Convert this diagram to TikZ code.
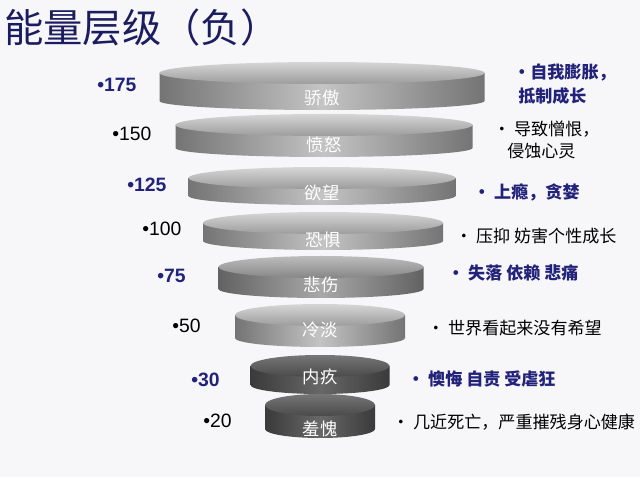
\documentclass[tikz,border=0pt]{standalone}
\usepackage{fontspec}
\setmainfont{Liberation Sans}
\newfontfamily\cjk{Noto Sans CJK SC}
\definecolor{navy}{HTML}{22227A}
\definecolor{titlecol}{HTML}{1C1C60}
\definecolor{bgcol}{HTML}{F7F7F9}
% light disks
\definecolor{Ledge}{HTML}{747474}
\definecolor{Lmid}{HTML}{C4C4C4}
\definecolor{Ltt}{HTML}{D6D6D6}
\definecolor{Ltb}{HTML}{9C9C9C}
% medium disk
\definecolor{Medge}{HTML}{626262}
\definecolor{Mmid}{HTML}{A8A8A8}
\definecolor{Mtt}{HTML}{BDBDBD}
\definecolor{Mtb}{HTML}{868686}
% dark disks
\definecolor{Dedge}{HTML}{3A3A3A}
\definecolor{Dmid}{HTML}{686868}
\definecolor{Dtt}{HTML}{767676}
\definecolor{Dtb}{HTML}{4A4A4A}
\newcommand\mydisk[8]{%
  \pgfmathsetmacro\dkrx{#4/2}%
  \pgfmathsetmacro\dkya{#3+11}%
  \pgfmathsetmacro\dkyb{#5-9}%
  \pgfmathsetmacro\dkxl{#2-\dkrx}%
  \pgfmathsetmacro\dkxr{#2+\dkrx}%
  \path[left color=#6edge, right color=#6edge, middle color=#6mid]
    (\dkxl,\dkya) -- (\dkxl,\dkyb)
    arc[start angle=180, end angle=360, x radius=\dkrx*0.75pt, y radius=6.75pt]
    -- (\dkxr,\dkya) -- cycle;
  \path[top color=#6tt, bottom color=#6tb]
    (#2,\dkya) ellipse[x radius=\dkrx*0.75pt, y radius=8.25pt];
  \node[disklabel] (#1) at (#2,#8) {#7};
}
\begin{document}
\begin{tikzpicture}[x=0.75pt,y=-0.75pt,
  num/.style={font=\fontsize{14.5pt}{16pt}\selectfont, anchor=west, inner sep=0, text=black},
  numhi/.style={num, text=navy, font=\fontsize{14.5pt}{16pt}\selectfont\bfseries},
  desc/.style={font=\cjk\fontsize{12.8pt}{15pt}\selectfont, anchor=west, inner sep=0, text=black},
  deschi/.style={desc, text=navy, font=\cjk\bfseries\fontsize{12.8pt}{15pt}\selectfont},
  disklabel/.style={font=\cjk\fontsize{13pt}{15pt}\selectfont, text=white, inner sep=0}]
\useasboundingbox (0,0) rectangle (640,477);
\fill[bgcol] (0,0) rectangle (640,477);

\node[anchor=west, inner sep=0, text=titlecol, font=\cjk\fontsize{29.5pt}{32pt}\selectfont] (title) at (4,28) {能量层级（负）};

\mydisk{k1}{322}{62}{325}{110}{L}{骄傲}{98}
\mydisk{k2}{324}{114}{297}{157}{L}{愤怒}{145}
\mydisk{k3}{322}{167}{267}{205}{L}{欲望}{193}
\mydisk{k4}{323}{212}{240}{250}{L}{恐惧}{240}
\mydisk{k5}{321}{256}{205}{298}{M}{悲伤}{285}
\mydisk{k6}{320}{304}{170}{347}{L}{冷淡}{330}
\mydisk{k7}{320}{355}{139}{394}{D}{内疚}{377}
\mydisk{k8}{320}{394}{110}{438}{D}{羞愧}{429}

\node[numhi] (n175) at (97,85) {•175};
\node[num]   (n150) at (112,134) {•150};
\node[numhi] (n125) at (127,185) {•125};
\node[num]   (n100) at (142,229) {•100};
\node[numhi] (n75)  at (157,276) {•75};
\node[num]   (n50)  at (172,326) {•50};
\node[numhi] (n30)  at (191,380) {•30};
\node[num]   (n20)  at (203,421) {•20};

\node[deschi] (d1a) at (513,73)  {•自我膨胀，};
\node[deschi] (d1b) at (518,96)  {抵制成长};
\node[desc]   (d2a) at (493,129) {• 导致憎恨，};
\node[desc]   (d2b) at (507,151) {侵蚀心灵};
\node[deschi] (d3)  at (473,192) {• 上瘾，贪婪};
\node[desc]   (d4)  at (455,236) {• 压抑 妨害个性成长};
\node[deschi] (d5)  at (447,273) {• 失落 依赖 悲痛};
\node[desc]   (d6)  at (427,328) {• 世界看起来没有希望};
\node[deschi] (d7)  at (407,379) {• 懊悔 自责 受虐狂};
\node[desc]   (d8)  at (392,422) {• 几近死亡，严重摧残身心健康};
\end{tikzpicture}
\end{document}
